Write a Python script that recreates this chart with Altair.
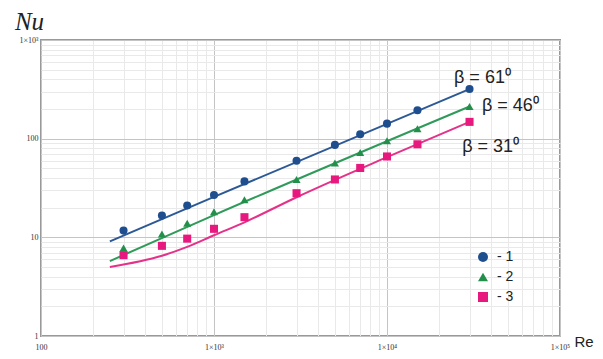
import altair as alt
import pandas as pd

# ---- data ----
re_pts = [300, 500, 700, 1000, 1500, 3000, 5000, 7000, 10000, 15000, 30000]
nu_1 = [11.7, 16.6, 21.0, 26.9, 36.9, 59.8, 86.5, 111, 142, 194, 318]
nu_2 = [7.8, 10.8, 13.9, 18.2, 24.0, 38.6, 56.6, 72.4, 95.5, 126, 212]
nu_3 = [6.6, 8.2, 9.7, 12.2, 16.0, 28.0, 38.6, 50.5, 66, 87.7, 148]

line_re_1 = [250, 1000, 30000]
line_nu_1 = [9.1, 25.7, 318]
line_re_2 = [250, 1000, 30000]
line_nu_2 = [5.75, 16.8, 212]
line_re_3 = [250, 500, 700, 1000, 1500, 3000, 10000, 30000]
line_nu_3 = [5.0, 6.5, 8.0, 10.5, 14.2, 25.5, 65, 148]

series_names = ["- 1", "- 2", "- 3"]
point_colors = ["#1f4e8f", "#22904b", "#e8197e"]
line_colors = ["#2c5996", "#2f9a5a", "#e4328a"]
shapes = ["circle", "triangle-up", "square"]

label_text = ["β = 61⁰", "β = 46⁰", "β = 31⁰"]
label_re = [24400, 35400, 27200]
label_nu = [410, 214, 82]

x_decades = [100, 1000, 10000, 100000]
x_tick_labels = ["100", "1×10³", "1×10⁴", "1×10⁵"]
y_decades = [1, 10, 100, 1000]
y_tick_labels = ["1", "10", "100", "1×10³"]

# ---- tables ----
pts = pd.DataFrame([
    {"series": s, "Re": r, "Nu": n}
    for s, nus in zip(series_names, [nu_1, nu_2, nu_3])
    for r, n in zip(re_pts, nus)
])
lines = pd.DataFrame([
    {"series": s, "Re": r, "Nu": n, "k": i}
    for s, rs, ns in zip(series_names,
                         [line_re_1, line_re_2, line_re_3],
                         [line_nu_1, line_nu_2, line_nu_3])
    for i, (r, n) in enumerate(zip(rs, ns))
])
labels = pd.DataFrame({"Re": label_re, "Nu": label_nu, "text": label_text})


def minor_values(decades):
    vals = []
    for d in decades[:-1]:
        vals += [d * m for m in range(1, 10)]
    vals.append(decades[-1])
    return vals


def label_expr(decades, texts):
    expr = "''"
    for d, t in reversed(list(zip(decades, texts))):
        expr = f"datum.value == {d} ? '{t}' : {expr}"
    return expr


def grid_color(decades):
    arr = ",".join(str(d) for d in decades)
    return {"condition": {"test": f"indexof([{arr}], datum.value) >= 0", "value": "#c4c4c4"},
            "value": "#e9e9e9"}


x_axis = alt.Axis(
    values=minor_values(x_decades), labelExpr=label_expr(x_decades, x_tick_labels),
    gridColor=grid_color(x_decades), domain=False, ticks=False, labelOverlap=False,
    labelFlush=False, labelFont="Liberation Serif", labelFontSize=8, labelColor="#333",
    labelPadding=7, title="Re", titleFont="Liberation Sans", titleFontSize=15,
    titleFontWeight="normal", titleColor="#222", titleX=533, titleY=5,
    titleAlign="left", titleBaseline="middle", titleAngle=0,
)
y_axis = alt.Axis(
    values=minor_values(y_decades), labelExpr=label_expr(y_decades, y_tick_labels),
    gridColor=grid_color(y_decades), domain=False, ticks=False, labelOverlap=False,
    labelFlush=False, labelFont="Liberation Serif", labelFontSize=8, labelColor="#333",
    labelPadding=3, title="Nu", titleFont="Liberation Serif", titleFontSize=25,
    titleFontStyle="italic", titleFontWeight="normal", titleColor="#222",
    titleX=-12, titleY=-19, titleAngle=0, titleAlign="center", titleBaseline="middle",
)

X = alt.X("Re:Q", scale=alt.Scale(type="log", domain=[100, 100000], nice=False), axis=x_axis)
Y = alt.Y("Nu:Q", scale=alt.Scale(type="log", domain=[1, 1000], nice=False), axis=y_axis)

line_layer = alt.Chart(lines).mark_line(strokeWidth=2, interpolate="monotone").encode(
    x=X, y=Y, order="k:Q",
    color=alt.Color("series:N", scale=alt.Scale(domain=series_names, range=line_colors), legend=None),
)

point_layer = alt.Chart(pts).mark_point(filled=True, size=65, opacity=1).encode(
    x=X, y=Y,
    color=alt.Color("series:N", scale=alt.Scale(domain=series_names, range=point_colors), title=None),
    shape=alt.Shape("series:N", scale=alt.Scale(domain=series_names, range=shapes), title=None),
)

text_layer = alt.Chart(labels).mark_text(
    align="left", baseline="middle", font="Liberation Sans", fontSize=18, color="#222"
).encode(x=X, y=Y, text="text:N")

chart = alt.layer(line_layer, point_layer, text_layer).resolve_scale(
    color="independent", shape="independent"
).properties(
    width=519, height=296,
    autosize=alt.AutoSizeParams(type="none"),
    padding={"left": 33, "top": 32, "right": 35, "bottom": 15},
).configure_view(stroke="#999", strokeWidth=2).configure_legend(
    orient="none", legendX=435, legendY=210, padding=0, rowPadding=4,
    labelFont="Liberation Sans", labelFontSize=14, labelColor="#222",
    symbolSize=100, labelOffset=7, symbolOpacity=1,
)

chart.save("out.html", embed_options={"renderer": "svg", "actions": False})
